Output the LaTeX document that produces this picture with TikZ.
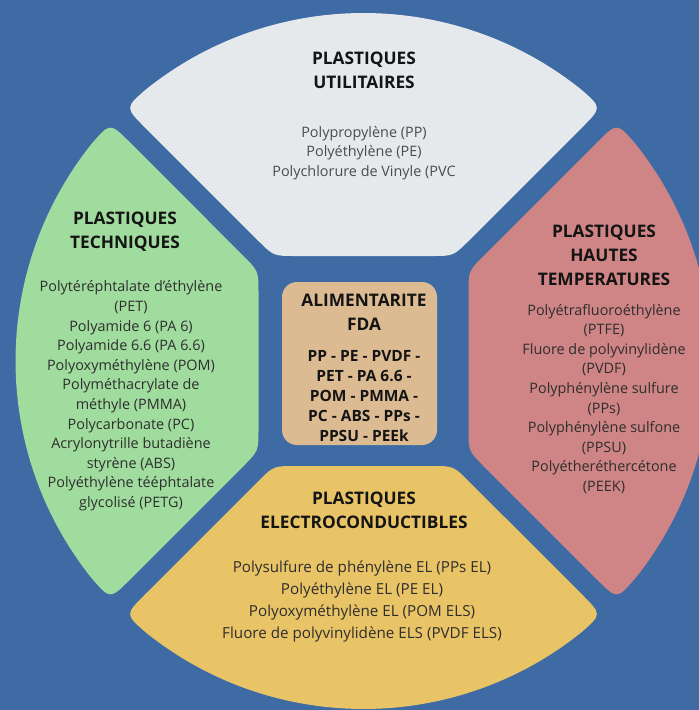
\documentclass[tikz,border=0pt]{standalone}
\usepackage{fontspec}
\setmainfont{Open Sans}
\definecolor{bgblue}{HTML}{3E6BA4}
\definecolor{cgrey}{HTML}{E5E9EC}
\definecolor{cgreen}{HTML}{A1DC9F}
\definecolor{cred}{HTML}{CF8485}
\definecolor{cyellow}{HTML}{E9C467}
\definecolor{ctan}{HTML}{DCBB93}
\definecolor{tbody}{HTML}{2E2E2E}
\def\mysector{(-68,-105) .. controls (-90,-105) .. (-105.56,-120.56) -- (-218.66,-233.65) .. controls (-238.46,-253.45) .. (-217.3,-271.8) arc[start angle=-128.64, end angle=-51.36, radius=348] .. controls (238.46,-253.45) .. (218.66,-233.65) -- (105.56,-120.56) .. controls (90,-105) .. (68,-105) -- cycle}
\begin{document}
\begin{tikzpicture}[x=1pt,y=-1pt,
  ttl/.style={font=\bfseries\fontsize{17.3}{24}\selectfont, align=center, text=black!92, inner sep=0pt},
  items/.style={font=\fontsize{14.4}{19.6}\selectfont, align=center, text=tbody, inner sep=0pt},
  citems/.style={font=\bfseries\fontsize{15.5}{20}\selectfont, align=center, text=black!92, inner sep=0pt}]
\fill[bgblue] (0,0) rectangle (699,710);
\useasboundingbox (0,0) rectangle (699,710);
\foreach \r/\c in {0/cgrey,90/cgreen,180/cyellow,270/cred}{
  \fill[\c, shift={(363.5,361)}, rotate=\r] \mysector;
}
\fill[ctan, rounded corners=15pt] (282,282) rectangle (437,445);
% top
\node[ttl] (t1) at (364,70) {PLASTIQUES\\UTILITAIRES};
\node[items, text=black!70] (l1) at (364,153) {Polypropylène (PP)\\Polyéthylène (PE)\\Polychlorure de Vinyle (PVC};
% left
\node[ttl] (t2) at (125,232) {PLASTIQUES\\TECHNIQUES};
\node[items] (l2) at (131,396) {Polytéréphtalate d{\char"27}éthylène\\(PET)\\Polyamide 6 (PA 6)\\Polyamide 6.6 (PA 6.6)\\Polyoxyméthylène (POM)\\Polyméthacrylate de\\méthyle (PMMA)\\Polycarbonate (PC)\\Acrylonytrille butadiène\\styrène (ABS)\\Polyéthylène tééphtalate\\glycolisé (PETG)};
% right
\node[ttl] (t3) at (604,255) {PLASTIQUES\\HAUTES\\TEMPERATURES};
\node[items] (l3) at (604,399) {Polyétrafluoroéthylène\\(PTFE)\\Fluore de polyvinylidène\\(PVDF)\\Polyphénylène sulfure\\(PPs)\\Polyphénylène sulfone\\(PPSU)\\Polyétheréthercétone\\(PEEK)};
% bottom
\node[ttl] (t4) at (364,510) {PLASTIQUES\\ELECTROCONDUCTIBLES};
\node[items, font=\fontsize{15.2}{22}\selectfont] (l4) at (362,601) {Polysulfure de phénylène EL (PPs EL)\\Polyéthylène EL (PE EL)\\Polyoxyméthylène EL (POM ELS)\\Fluore de polyvinylidène ELS (PVDF ELS)};
% centre
\node[ttl] (t5) at (364,312) {ALIMENTARITE\\FDA};
\node[citems] (l5) at (364,396) {PP - PE - PVDF -\\PET - PA 6.6 -\\POM - PMMA -\\PC - ABS - PPs -\\PPSU - PEEk};
\end{tikzpicture}
\end{document}
